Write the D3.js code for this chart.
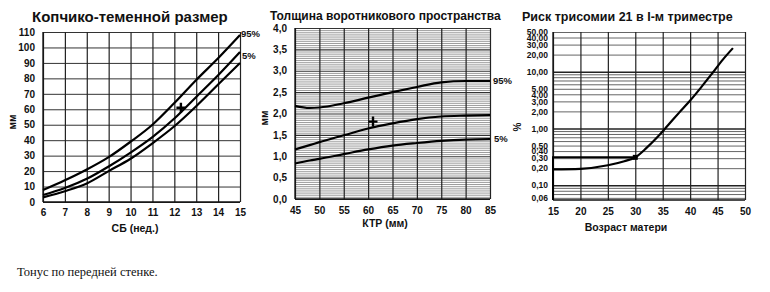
<!DOCTYPE html>
<html>
<head>
<meta charset="utf-8">
<script src="https://cdn.jsdelivr.net/npm/d3@7"></script>
<style>
  body { margin: 0; background: #fff; }
  svg { display: block; }
  .tick text { font-family: "Liberation Sans", Arial, sans-serif; fill: #111; }
</style>
</head>
<body>
<div id="chart"></div>
<script>
// Chart 1: CRL by gestational age (weeks)
const crlWeeks = [6, 7, 8, 9, 10, 11, 12, 13, 14, 15];
const crlP5  = [3, 7, 12, 20, 28, 38, 49, 62, 76, 90];
const crlP50 = [4.5, 9, 15, 23, 32, 42, 54, 68, 82, 97];
const crlP95 = [7.7, 14, 21, 29, 39, 50, 64, 79, 93, 108];
const crlMarker = [12.3, 61];
const crlYTicks = [0, 10, 20, 30, 40, 50, 60, 70, 80, 90, 100, 110];

// Chart 2: nuchal translucency by CRL (mm)
const ntCrl = [45, 48, 50, 55, 60, 65, 70, 75, 80, 85];
const ntP5  = [0.83, 0.9, 0.94, 1.05, 1.16, 1.25, 1.31, 1.36, 1.39, 1.40];
const ntP50 = [1.16, 1.26, 1.33, 1.49, 1.65, 1.77, 1.87, 1.93, 1.95, 1.96];
const ntP95 = [2.18, 2.13, 2.14, 2.24, 2.37, 2.5, 2.62, 2.73, 2.76, 2.76];
const ntMarker = [61, 1.81];
const ntYTicks = [0, 0.5, 1, 1.5, 2, 2.5, 3, 3.5, 4];

// Chart 3: trisomy 21 risk by maternal age
const riskAge = [15, 20, 25, 28, 30, 32, 34, 36, 38, 40, 42, 44, 46, 47.8];
const riskPct = [0.19, 0.195, 0.225, 0.265, 0.31, 0.45, 0.7, 1.15, 1.9, 3.1, 5.3, 9.3, 16.5, 26];
const riskMarker = [30, 0.31];
const riskYTicks = [0.06, 0.1, 0.2, 0.3, 0.4, 0.5, 1, 2, 3, 4, 5, 10, 20, 30, 40, 50];
const riskYGrid = [0.06, 0.07, 0.08, 0.09, 0.1, 0.2, 0.3, 0.4, 0.5, 0.6, 0.7, 0.8, 0.9,
                   1, 2, 3, 4, 5, 6, 7, 8, 9, 10, 20, 30, 40, 50];

const W = 770, H = 292;
const sans = '"Liberation Sans", Arial, sans-serif';
const ru = d3.formatLocale({decimal: ",", thousands: " ", grouping: [3], currency: ["", ""]});

const svg = d3.select("#chart").append("svg")
    .attr("width", W).attr("height", H);

// draws a gridded panel; grid via axes with negative tick size
function gridPanel(x, y, xTicks, yGrid, opts) {
    const g = svg.append("g");
    const [x0, x1] = x.range();
    const [y0, y1] = y.range();

    // horizontal grid
    g.append("g")
     .attr("transform", "translate(" + x0 + ",0)")
     .call(d3.axisLeft(y).tickValues(yGrid).tickSize(-(x1 - x0)).tickFormat(""))
     .call(a => a.select(".domain").remove())
     .call(a => a.selectAll("line")
                 .attr("stroke", d => opts.hColor(d))
                 .attr("stroke-width", d => opts.hWidth ? opts.hWidth(d) : 1));

    // vertical grid
    g.append("g")
     .attr("transform", "translate(0," + y0 + ")")
     .call(d3.axisBottom(x).tickValues(xTicks).tickSize(-(y0 - y1)).tickFormat(""))
     .call(a => a.select(".domain").remove())
     .call(a => a.selectAll("line").attr("stroke", "#222").attr("stroke-width", 1.2));

    // frame on left and bottom
    g.append("line").attr("x1", x0).attr("x2", x0).attr("y1", y0).attr("y2", y1)
     .attr("stroke", "#111").attr("stroke-width", 1.3);
    g.append("line").attr("x1", x0).attr("x2", x1).attr("y1", y0).attr("y2", y0)
     .attr("stroke", "#111").attr("stroke-width", 1.3);

    // tick labels
    g.append("g")
     .attr("transform", "translate(0," + y0 + ")")
     .call(d3.axisBottom(x).tickValues(xTicks).tickSize(0).tickPadding(opts.xPad))
     .call(a => a.select(".domain").remove())
     .call(a => a.selectAll("text").style("font-size", opts.xFont).style("font-weight", "bold"));
    g.append("g")
     .attr("transform", "translate(" + x0 + ",0)")
     .call(d3.axisLeft(y).tickValues(opts.yTicks).tickSize(0).tickPadding(opts.yPad).tickFormat(opts.yFormat))
     .call(a => a.select(".domain").remove())
     .call(a => a.selectAll("text").style("font-size", opts.yFont).style("font-weight", "bold"));
}

function curve(x, y, xs, ys) {
    const pts = xs.map((v, i) => [v, ys[i]]);
    svg.append("path")
       .datum(pts)
       .attr("d", d3.line().x(d => x(d[0])).y(d => y(d[1])).curve(d3.curveMonotoneX))
       .attr("fill", "none")
       .attr("stroke", "#000")
       .attr("stroke-width", 2.2);
}

function plusMark(px, py) {
    svg.append("path")
       .attr("d", "M" + (px - 4.5) + "," + py + "h9M" + px + "," + (py - 5) + "v10")
       .attr("stroke", "#000").attr("stroke-width", 2.4);
}

function label(text, x, y, size, opts = {}) {
    const t = svg.append("text")
       .attr("x", x).attr("y", y)
       .attr("font-family", opts.family || sans)
       .attr("font-size", size)
       .attr("font-weight", opts.weight || "bold")
       .attr("text-anchor", opts.anchor || "start")
       .attr("fill", "#111")
       .text(text);
    if (opts.rotate) t.attr("transform", "rotate(-90," + x + "," + y + ")");
    return t;
}

// ---- Chart 1
{
    const x = d3.scaleLinear().domain([6, 15]).range([43, 240]);
    const y = d3.scaleLinear().domain([0, 110]).range([202, 32]);
    gridPanel(x, y, crlWeeks, crlYTicks, {
        hColor: () => "#333", yTicks: crlYTicks, yFormat: d3.format("d"),
        xFont: "10px", yFont: "10px", xPad: 7, yPad: 8
    });
    curve(x, y, crlWeeks, crlP5);
    curve(x, y, crlWeeks, crlP50);
    curve(x, y, crlWeeks, crlP95);
    plusMark(x(crlMarker[0]), y(crlMarker[1]));
    label("Копчико-теменной размер", 32, 22, "15px");
    label("95%", x(15) + 1, y(crlP95.at(-1)) + 2, "9.5px");
    label("5%", x(15) + 2, y(crlP5.at(-1)) - 4, "9.5px");
    label("СБ (нед.)", 135, 232, "10.5px", {anchor: "middle"});
    label("мм", 16, 122, "10px", {anchor: "middle", rotate: true});
}

// ---- Chart 2
{
    const x = d3.scaleLinear().domain([45, 85]).range([295, 490]);
    const y = d3.scaleLinear().domain([0, 4]).range([199, 28]);
    const hGrid = d3.range(0, 81).map(i => i * 0.05);
    gridPanel(x, y, d3.range(45, 86, 5), hGrid, {
        hColor: d => (Math.abs(d * 2 - Math.round(d * 2)) < 1e-6 ? "#333" : "#808080"),
        hWidth: d => (Math.abs(d * 2 - Math.round(d * 2)) < 1e-6 ? 1.1 : 0.8),
        yTicks: ntYTicks, yFormat: ru.format(".1f"),
        xFont: "10px", yFont: "10px", xPad: 8, yPad: 8
    });
    curve(x, y, ntCrl, ntP5);
    curve(x, y, ntCrl, ntP50);
    curve(x, y, ntCrl, ntP95);
    plusMark(x(ntMarker[0]), y(ntMarker[1]));
    label("Толщина воротникового пространства", 270, 20, "12px");
    label("95%", x(85) + 3, y(ntP95.at(-1)) + 3, "9.5px");
    label("5%", x(85) + 4, y(ntP5.at(-1)) + 3, "9.5px");
    label("КТР (мм)", 385, 227, "10.5px", {anchor: "middle"});
    label("мм", 268, 118, "10px", {anchor: "middle", rotate: true});
}

// ---- Chart 3
{
    const x = d3.scaleLinear().domain([15, 50]).range([553, 745]);
    const y = d3.scaleLog().domain([0.055, 50]).range([200, 32]);
    gridPanel(x, y, d3.range(15, 51, 5), riskYGrid, {
        hColor: d => ([0.1, 1, 10].includes(d) ? "#222" : "#555"),
        hWidth: d => ([0.1, 1, 10].includes(d) ? 1.4 : 0.9),
        yTicks: riskYTicks, yFormat: ru.format(".2f"),
        xFont: "10px", yFont: "8.5px", xPad: 8, yPad: 5
    });
    // reference lines from age axis to the point on the curve
    svg.append("path")
       .attr("d", "M" + x(15) + "," + y.range()[0] + "V" + y(riskMarker[1]) + "H" + x(riskMarker[0]))
       .attr("fill", "none").attr("stroke", "#000").attr("stroke-width", 2);
    curve(x, y, riskAge, riskPct);
    svg.append("rect")
       .attr("x", x(riskMarker[0]) - 2.5).attr("y", y(riskMarker[1]) - 2.5)
       .attr("width", 5).attr("height", 5).attr("fill", "#000");
    label("Риск трисомии 21 в I-м триместре", 522, 21, "12.5px");
    label("Возраст матери", 626, 231, "10.5px", {anchor: "middle"});
    label("%", 521, 127, "10px", {anchor: "middle", rotate: true});
}

// ---- note under the charts
label("Тонус по передней стенке.", 17, 276, "12.5px",
      {family: '"Liberation Serif", "Times New Roman", serif', weight: "normal"});
</script>
</body>
</html>
